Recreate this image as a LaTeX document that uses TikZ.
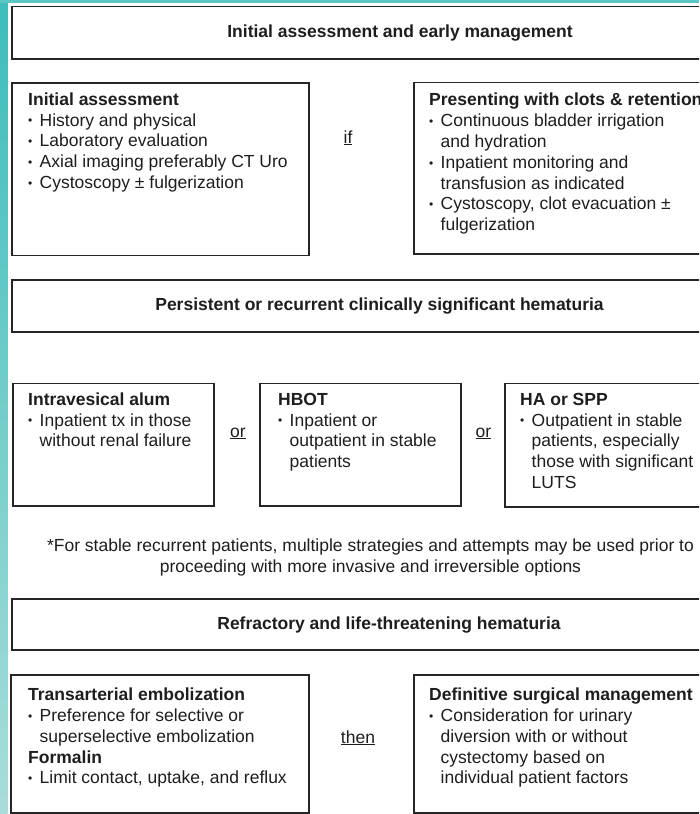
\documentclass[tikz,border=0pt]{standalone}
\usepackage{fontspec}
\setmainfont{Liberation Sans}
\definecolor{tealA}{HTML}{3DBDBA}
\definecolor{tealB}{HTML}{A9DDD9}
\definecolor{ink}{HTML}{1E1E1E}
\newcommand\fsz{\fontsize{17.5}{20.8}\selectfont}
\newcommand\mybul{\strut\makebox[11.5pt][l]{\raisebox{1.2pt}{\fontsize{12}{12}\selectfont •}}}
\newcommand\mycont{\strut\hspace*{11.5pt}}
\begin{document}
\begin{tikzpicture}[x=1pt,y=-1pt,
  box/.style={draw=black!85, line width=1.8pt, fill=white, inner sep=0pt, anchor=north west},
  txt/.style={anchor=north west, inner sep=0pt, align=left, text=ink, font=\fsz},
  ttl/.style={anchor=base, inner sep=0pt, text=ink, font=\fsz\bfseries},
  conj/.style={anchor=base, inner sep=0pt, text=ink, font=\fsz}]
\useasboundingbox (0,0) rectangle (699,814);
\clip (0,0) rectangle (699,814);
\fill[white] (0,0) rectangle (699,814);
% teal strips
\shade[top color=tealA, bottom color=tealB] (0,0) rectangle (7.5,814);
\fill[tealA!85!white] (0,0) rectangle (699,2.5);
% boxes
\node[box, minimum width=709pt, minimum height=52.5pt] (b0) at (11,5.5) {};
\node[box, minimum width=297pt, minimum height=172.5pt] (b1) at (11,82) {};
\node[box, minimum width=307pt, minimum height=171.5pt] (b2) at (413,81.5) {};
\node[box, minimum width=709pt, minimum height=52pt] (b3) at (11,279) {};
\node[box, minimum width=201pt, minimum height=122.5pt] (b4) at (12,382.5) {};
\node[box, minimum width=201pt, minimum height=122.5pt] (b5) at (259,382.5) {};
\node[box, minimum width=216pt, minimum height=123.5pt] (b6) at (504,382.5) {};
\node[box, minimum width=709pt, minimum height=51pt] (b7) at (11,598) {};
\node[box, minimum width=298pt, minimum height=138pt] (b8) at (10,674) {};
\node[box, minimum width=307pt, minimum height=138pt] (b9) at (413,674) {};
% banner titles
\node[ttl] (t0) at (400,37.5) {Initial assessment and early management};
\node[ttl] (t3) at (379.5,310.5) {Persistent or recurrent clinically significant hematuria};
\node[ttl] (t7) at (389,629.5) {Refractory and life-threatening hematuria};
% box texts
\node[txt] (t1) at (28,90.44) {\strut\textbf{Initial assessment}\\
\mybul History and physical\\
\mybul Laboratory evaluation\\
\mybul Axial imaging preferably CT Uro\\
\mybul Cystoscopy ± fulgerization};
\node[txt] (t2) at (429,91.2) {\strut\textbf{Presenting with clots \& retention}\\
\mybul Continuous bladder irrigation\\
\mycont and hydration\\
\mybul Inpatient monitoring and\\
\mycont transfusion as indicated\\
\mybul Cystoscopy, clot evacuation ±\\
\mycont fulgerization};
\node[txt] (t4) at (28,390.44) {\strut\textbf{Intravesical alum}\\
\mybul Inpatient tx in those\\
\mycont without renal failure};
\node[txt] (t5) at (278,390.44) {\strut\textbf{HBOT}\\
\mybul Inpatient or\\
\mycont outpatient in stable\\
\mycont patients};
\node[txt] (t6) at (520,390.44) {\strut\textbf{HA or SPP}\\
\mybul Outpatient in stable\\
\mycont patients, especially\\
\mycont those with significant\\
\mycont LUTS};
\node[txt] (t8) at (28,685.94) {\strut\textbf{Transarterial embolization}\\
\mybul Preference for selective or\\
\mycont superselective embolization\\
\strut\textbf{Formalin}\\
\mybul Limit contact, uptake, and reflux};
\node[txt] (t9) at (429,685.94) {\strut\textbf{Definitive surgical management}\\
\mybul Consideration for urinary\\
\mycont diversion with or without\\
\mycont cystectomy based on\\
\mycont individual patient factors};
% footnote
\node[anchor=north, inner sep=0pt, align=center, text=ink, font=\fontsize{17.5}{21.2}\selectfont] (fn) at (370.5,536.2)
 {\strut *For stable recurrent patients, multiple strategies and attempts may be used prior to\\
  \strut proceeding with more invasive and irreversible options};
% conjunctions
\node[conj] (cif) at (348,143) {\underline{if}};
\node[conj] (cor1) at (238,437) {\underline{or}};
\node[conj] (cor2) at (483.5,437) {\underline{or}};
\node[conj] (cthen) at (358,743) {\underline{then}};
\end{tikzpicture}
\end{document}
